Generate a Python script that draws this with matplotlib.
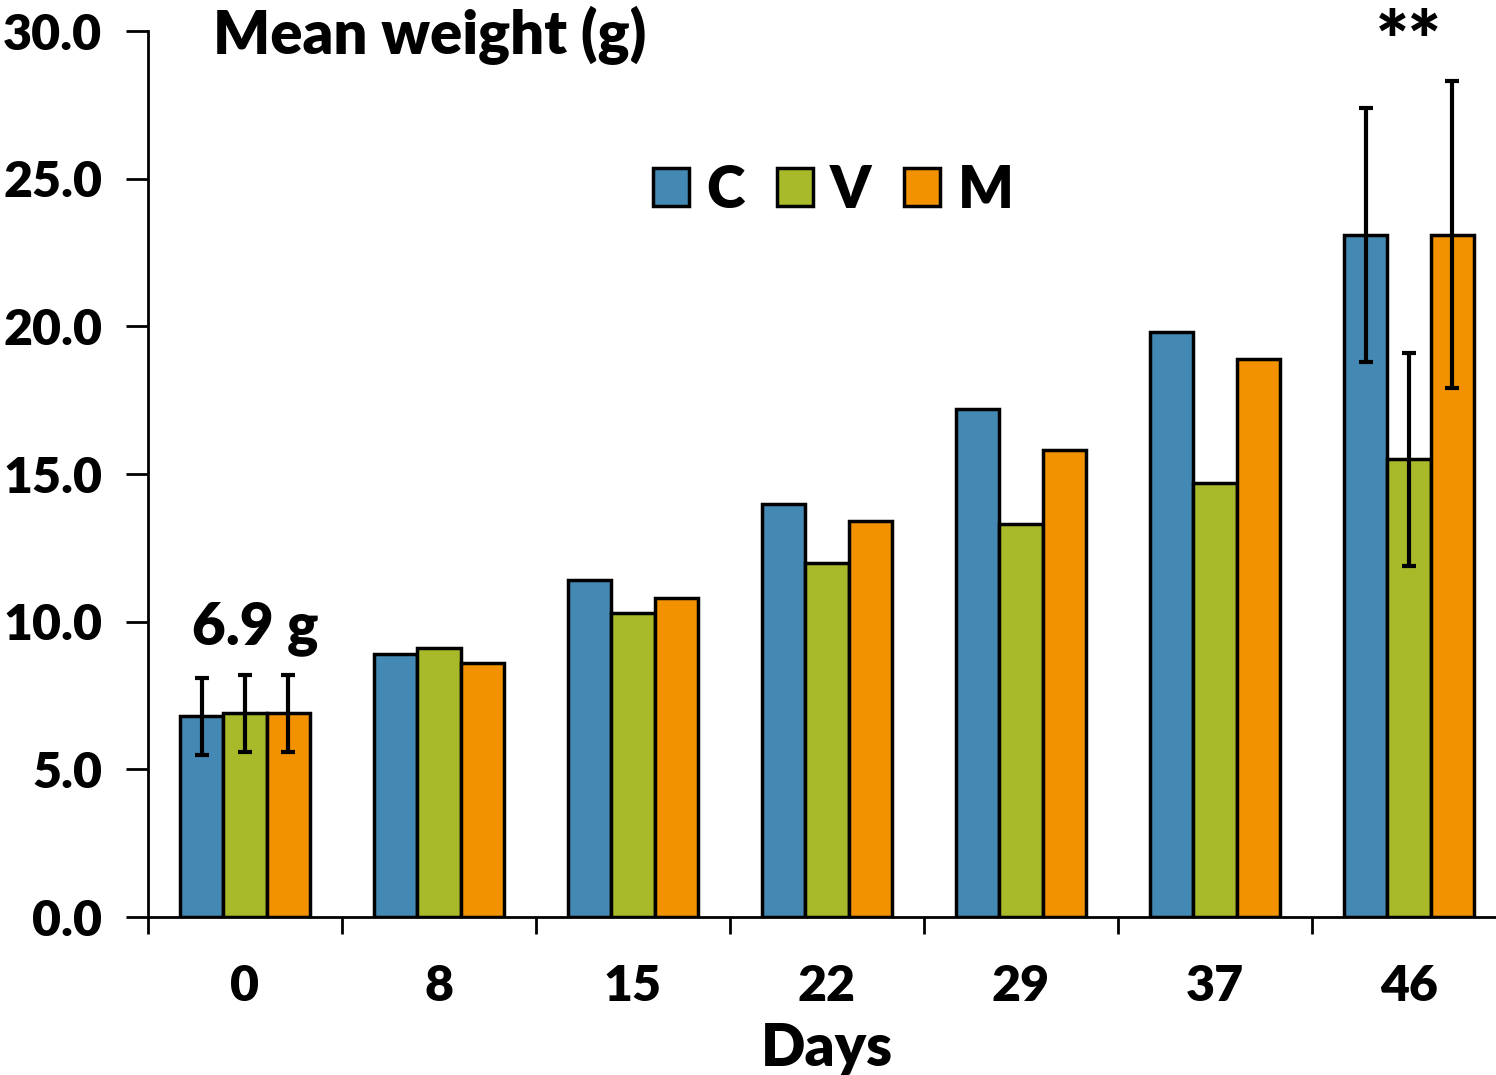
import matplotlib.pyplot as plt
import numpy as np

# mean weight per day, three groups
days = ['0', '8', '15', '22', '29', '37', '46']
c_vals = [6.8, 8.9, 11.4, 14.0, 17.2, 19.8, 23.1]
v_vals = [6.9, 9.1, 10.3, 12.0, 13.3, 14.7, 15.5]
m_vals = [6.9, 8.6, 10.8, 13.4, 15.8, 18.9, 23.1]

# error bars only on day 0 and day 46
c_err = [1.3, 0, 0, 0, 0, 0, 4.3]
v_err = [1.3, 0, 0, 0, 0, 0, 3.6]
m_err = [1.3, 0, 0, 0, 0, 0, 5.2]
err_days = [0, 6]

plt.rcParams['font.family'] = ['Lato', 'DejaVu Sans']
plt.rcParams['font.weight'] = 'heavy'

fig = plt.figure(figsize=(14.96, 10.75), dpi=100)
ax = fig.add_axes([148/1496, 158/1075, 1358/1496, 886/1075])

x = np.arange(len(days))
w = 0.224
colors = ['#4389B4', '#A8BA2A', '#F39200']
names = ['C', 'V', 'M']
for i, (vals, err) in enumerate([(c_vals, c_err), (v_vals, v_err), (m_vals, m_err)]):
    pos = x + (i - 1) * w
    ax.bar(pos, vals, w, color=colors[i], edgecolor='black', linewidth=2.5, label=names[i], zorder=2)
    ax.errorbar(pos[err_days], np.array(vals)[err_days], yerr=np.array(err)[err_days],
                fmt='none', ecolor='black', elinewidth=3, capsize=5, capthick=3, zorder=3)

ax.set_xlim(-0.5, 6.5)
ax.set_ylim(0, 30)
ax.set_yticks(np.arange(0, 31, 5))
ax.set_yticklabels(['%.1f' % t for t in np.arange(0, 31, 5)])
ax.set_xticks(np.arange(-0.5, 6.5, 1))
ax.set_xticklabels([])
ax.set_xticks(x, minor=True)
ax.set_xticklabels(days, minor=True)
ax.tick_params(axis='x', which='minor', length=0, pad=34, labelsize=36)
ax.tick_params(axis='x', which='major', length=12, width=2, direction='out')
ax.tick_params(axis='y', length=16, width=2, direction='out', labelsize=36, pad=17)
for lbl in ax.get_xticklabels(minor=True) + ax.get_yticklabels():
    lbl.set_fontweight('heavy')

for s in ['top', 'right']:
    ax.spines[s].set_visible(False)
ax.spines['left'].set_linewidth(2)
ax.spines['bottom'].set_linewidth(2)

ax.set_xlabel('Days', fontsize=42, fontweight='heavy', labelpad=9)

fig.text(213/1496, 1 - 35/1075, 'Mean weight (g)', fontsize=43, fontweight='heavy', va='center', ha='left')
ax.text(0.05, 8.85, '6.9 g', fontsize=42, fontweight='heavy', ha='center', va='bottom')
ax.text(6, 28.3, '**', fontsize=56, fontweight='heavy', ha='center', va='bottom')

fig.legend(loc='center', bbox_to_anchor=(833/1496, 1 - 190/1075), ncol=3, frameon=False,
           handlelength=0.62, handleheight=0.62, handletextpad=0.3, columnspacing=0.55,
           prop={'weight': 'heavy', 'size': 42})

fig.savefig('out.png', dpi=100)
